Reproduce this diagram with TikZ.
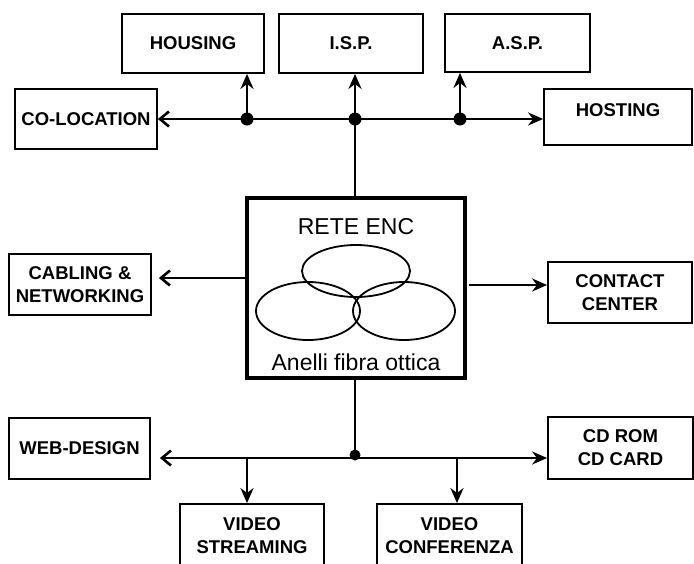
\documentclass[tikz,border=0pt]{standalone}
\usepackage{fontspec}
\setmainfont{Liberation Sans}
\usetikzlibrary{arrows.meta}
\begin{document}
\begin{tikzpicture}[x=1pt,y=-1pt,
  box/.style={draw, line width=1.8pt, rectangle, inner sep=0pt, align=center,
    font=\bfseries\fontsize{18.5}{23}\selectfont},
  boxtxt/.style={inner sep=0pt, align=center, font=\bfseries\fontsize{18.5}{23}\selectfont},
  bigtxt/.style={inner sep=0pt, font=\fontsize{23}{26}\selectfont},
  link/.style={line width=2.8pt},
  arr/.style={line width=2.8pt, -{Stealth[length=15pt,width=13pt]}},
  larr/.style={line width=2.8pt, -{Straight Barb[length=9pt,width=15pt,line width=2.6pt]}},
  dot/.style={circle, fill, inner sep=0pt, minimum size=13pt},
  ring/.style={line width=1.8pt}]
\useasboundingbox (0,0) rectangle (694,563);
\clip (0,0) rectangle (694,563);
% top row
\node[box, minimum width=142, minimum height=59] (housing) at (193,43.5) {HOUSING};
\node[box, minimum width=144, minimum height=59] (isp) at (351,43.5) {I.S.P.};
\node[box, minimum width=145, minimum height=58] (asp) at (517.5,43) {A.S.P.};
\node[box, minimum width=142, minimum height=60] (coloc) at (86,119) {CO-LOCATION};
\node[box, minimum width=148, minimum height=56] (hosting) at (618,117) {};
\node[boxtxt] (hostingtxt) at (618,110) {HOSTING};
% middle
\node[box, minimum width=142, minimum height=61] (cabling) at (80,284.5) {CABLING \&\\NETWORKING};
\node[box, minimum width=144, minimum height=61] (contact) at (620,292.5) {CONTACT\\CENTER};
\node[draw, line width=4pt, rectangle, inner sep=0pt, minimum width=218, minimum height=180] (center) at (356,288) {};
\node[bigtxt] (rete) at (356,227) {RETE ENC};
\node[bigtxt] (anelli) at (356,362) {Anelli fibra ottica};
\draw[ring] (356,271) ellipse [x radius=54, y radius=26];
\draw[ring] (308,311) ellipse [x radius=52, y radius=29];
\draw[ring] (404,311) ellipse [x radius=51, y radius=29];
% bottom
\node[box, minimum width=141, minimum height=61] (web) at (79.5,448.5) {WEB-DESIGN};
\node[box, minimum width=145, minimum height=62] (cdrom) at (620.5,448) {CD ROM\\CD CARD};
\node[box, minimum width=144, minimum height=80] (vstream) at (252,544) {};
\node[boxtxt] (vstreamtxt) at (252,535.5) {VIDEO\\STREAMING};
\node[box, minimum width=145, minimum height=80] (vconf) at (449.5,544) {};
\node[boxtxt] (vconftxt) at (449.5,535.5) {VIDEO\\CONFERENZA};
% top bus
\node[dot] (d1) at (247,119) {};
\node[dot] (d2) at (355,119) {};
\node[dot] (d3) at (460,119) {};
\draw[larr] (d2.center) -- (coloc.east);
\draw[arr] (d2.center) -- (hosting.west |- d2);
\draw[arr] (d1.center) -- (d1 |- housing.south);
\draw[arr] (d2.center) -- (d2 |- isp.south);
\draw[arr] (d3.center) -- (d3 |- asp.south);
\draw[link] (d2.center) -- (d2 |- center.north);
% side arrows
\draw[larr] (center.west |- 0,278) -- ([xshift=7pt]cabling.east |- 0,278);
\draw[arr] ([xshift=2pt]center.east |- 0,285) -- (contact.west |- 0,285);
% bottom bus
\node[dot, minimum size=11pt] (d4) at (355,455) {};
\coordinate (b1) at (247,458);
\coordinate (b2) at (457,458);
\draw[link] (center.south -| d4) -- (d4.center);
\draw[larr] (d4.center |- b1) -- ([xshift=9pt]web.east |- b1);
\draw[arr] (d4.center |- b1) -- (cdrom.west |- b1);
\draw[arr] (b1) -- (b1 |- vstream.north);
\draw[arr] (b2) -- (b2 |- vconf.north);
\end{tikzpicture}
\end{document}
